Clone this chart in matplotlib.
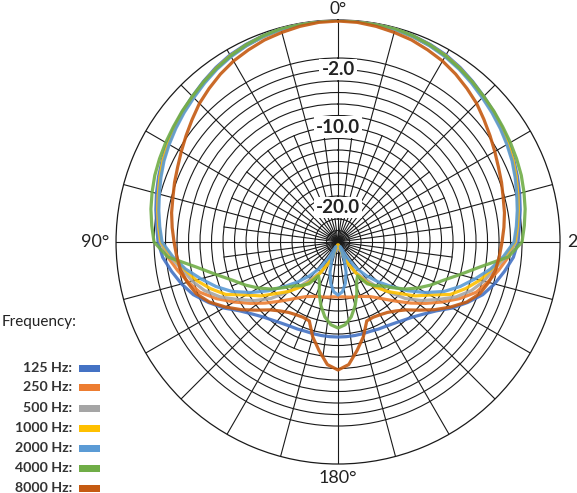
import numpy as np
import matplotlib.pyplot as plt
from matplotlib.patches import Rectangle

plt.rcParams['font.family'] = ['Lato', 'DejaVu Sans']

# angle from front (deg), one side only -- the pattern is mirrored
angles = list(range(0, 185, 5))

# radius as drawn (outer ring = 222)
lvl_125 = [222, 222, 221.5, 221, 219.5, 218, 216, 213, 209.5, 206, 203, 200, 197, 194, 191, 188, 185, 182, 180,
           176, 169, 162, 154, 143, 132, 120, 112, 106, 102, 99, 97, 96, 95, 95, 95, 95, 95]
lvl_250 = [222, 222, 221, 220.5, 219, 217, 215, 212, 208.5, 205, 202, 199, 196, 193, 189.5, 186, 183, 180, 177,
           171, 163, 155, 147, 134, 120, 107, 95, 84, 75, 68, 63, 60, 58, 57, 56, 55, 55]
lvl_500 = [222, 222, 221, 220.5, 219, 217, 215, 212, 208.5, 205, 202, 199, 196, 193, 189.5, 186, 183, 180.5, 178,
           169, 158, 151, 142, 130, 115, 102, 88, 70, 56, 44, 35, 25, 15, 8, 5, 6, 8]
lvl_1000 = [222, 222, 221, 220, 218.5, 217, 215, 212, 208.5, 205, 202, 199, 196, 193, 189.5, 186, 183, 180, 177,
            167, 156, 147, 136, 124, 106, 94, 80, 70, 59, 49, 36, 24, 12, 5, 3, 4, 5]
lvl_2000 = [222, 222, 221, 220, 218.5, 216.5, 214, 211, 207.5, 204, 201, 198, 195, 192, 188.5, 185, 182, 179, 176,
            166, 155, 142, 130, 117, 101, 85, 69, 56, 44, 32, 18, 5, 18, 31, 42, 50, 53]
lvl_4000 = [222, 222, 221.5, 221, 219.5, 217.5, 215, 212, 209, 206, 203.5, 201, 199, 197, 195, 192.5, 190, 187, 184,
            171, 144, 126, 112, 102, 92, 82, 71, 62, 57, 51, 39, 44, 55, 66, 76, 83, 86]
lvl_8000 = [221, 220.5, 219, 217, 215, 212, 209, 205, 200.5, 196, 190.5, 185.5, 181, 177, 174, 171, 169, 166.5, 164,
            162, 160, 156, 151, 142, 130, 118, 106, 96, 90, 86, 84, 83, 84, 98, 110, 123, 128]

freq_labels = ['125 Hz:', '250 Hz:', '500 Hz:', '1000 Hz:', '2000 Hz:', '4000 Hz:', '8000 Hz:']
colors = ['#4472C4', '#ED7D31', '#A5A5A5', '#FFC000', '#5B9BD5', '#70AD47', '#C55A11']
series = [lvl_125, lvl_250, lvl_500, lvl_1000, lvl_2000, lvl_4000, lvl_8000]

ring_r = [11.5 * k for k in range(1, 17)]
ring_labels = {172.5: '-2.0', 115.0: '-10.0', 34.5: '-20.0'}
rmax = 222

fig = plt.figure(figsize=(5.77, 4.93), dpi=100)
ax = fig.add_axes([0.2011, 0.0588, 0.7695, 0.9006], projection='polar')
ax.set_theta_zero_location('N')
ax.set_theta_direction(1)
ax.set_ylim(0, rmax)
ax.set_xticks(np.deg2rad(np.arange(0, 360, 15)))
ax.set_xticklabels([])
ax.set_yticks(ring_r)
ax.set_yticklabels([])
ax.grid(True, color='#1a1a1a', lw=0.8)
ax.set_axisbelow(True)
ax.spines['polar'].set_color('#1a1a1a')
ax.spines['polar'].set_linewidth(0.9)

# finer spokes in the middle of the chart
for a in np.arange(7.5, 360, 15):
    ax.plot([np.deg2rad(a)] * 2, [0, 115], color='#1a1a1a', lw=0.8, zorder=1)

# curves, mirrored to the other side
th_half = np.array(angles, dtype=float)
th_full = np.deg2rad(np.concatenate([th_half, 360 - th_half[::-1]]))
for lv, c in zip(series, colors):
    lv = np.array(lv, dtype=float)
    r_full = np.concatenate([lv, lv[::-1]])
    ax.plot(th_full, r_full, color=c, lw=2.3, alpha=0.9, zorder=3, solid_capstyle='round')

for r, s in ring_labels.items():
    ax.text(0, r, s, ha='center', va='center', fontsize=13.5, fontweight='bold', color='#222222',
            zorder=5, bbox=dict(facecolor='white', edgecolor='none', pad=1.5))

# angle labels
ax.text(0, 233, '0°', ha='center', va='center', fontsize=12.5, color='#222222', clip_on=False)
ax.text(np.pi / 2, 229, '90°', ha='right', va='center', fontsize=13, color='#222222', clip_on=False)
ax.text(np.pi, 228, '180°', ha='center', va='top', fontsize=13, color='#222222', clip_on=False)
ax.text(3 * np.pi / 2, 229, '270°', ha='left', va='center', fontsize=13, color='#222222', clip_on=False)

# legend block on the left
W, H = 577.0, 493.0
fig.text(2 / W, 1 - 322 / H, 'Frequency:', ha='left', va='center', fontsize=11, color='#222222')
row_y = [368, 387, 408, 428, 448, 468, 488]
for yy, lab, c in zip(row_y, freq_labels, colors):
    fig.text(72 / W, 1 - yy / H, lab, ha='right', va='center', fontsize=10.2, fontweight='bold', color='#333333')
    fig.patches.append(Rectangle((79 / W, 1 - (yy + 3.5) / H), 21 / W, 7 / H, transform=fig.transFigure,
                                 facecolor=c, edgecolor='none'))

fig.savefig('out.png', dpi=100)
